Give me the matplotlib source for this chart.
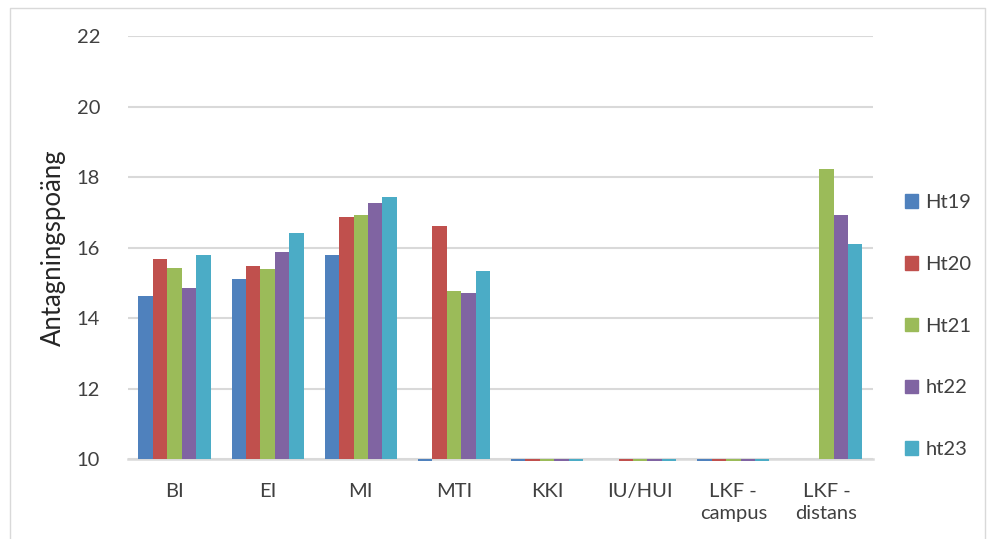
import numpy as np
from matplotlib import pyplot as plt
from matplotlib.patches import Patch

categories = ['BI', 'EI', 'MI', 'MTI', 'KKI', 'IU/HUI', 'LKF -\ncampus', 'LKF -\ndistans']
series = ['Ht19', 'Ht20', 'Ht21', 'ht22', 'ht23']
colors = ['#4F81BD', '#C0504D', '#9BBB59', '#8064A2', '#4BACC6']

nan = np.nan
# 0 = value below the axis minimum (drawn as a thin stub by Excel)
ht19 = [14.62, 15.10, 15.78, 0, 0, nan, 0, nan]
ht20 = [15.66, 15.48, 16.86, 16.60, 0, 0, 0, nan]
ht21 = [15.42, 15.40, 16.91, 14.78, 0, 0, 0, 18.23]
ht22 = [14.84, 15.88, 17.25, 14.72, 0, 0, 0, 16.91]
ht23 = [15.79, 16.40, 17.44, 15.34, 0, 0, 0, 16.11]
values = [ht19, ht20, ht21, ht22, ht23]

ymin, ymax = 10, 22

plt.rcParams['font.family'] = ['Lato', 'DejaVu Sans']
fig = plt.figure(figsize=(9.89, 5.39), dpi=100)
ax = fig.add_axes([0.1294, 0.1484, 0.7533, 0.7848])

x = np.arange(len(categories))
w = 0.774 / len(series)
for i, (name, vals, c) in enumerate(zip(series, values, colors)):
    xs = x - 0.387 + w * (i + 0.5)
    for xi, v in zip(xs, vals):
        if np.isnan(v):
            continue
        if v < ymin:
            ax.bar(xi, -0.06, bottom=ymin, width=w, color=c, clip_on=False, zorder=3)
        else:
            ax.bar(xi, v - ymin, bottom=ymin, width=w, color=c, zorder=3)

ax.set_xlim(-0.5, len(categories) - 0.5)
ax.set_ylim(ymin, ymax)
ax.set_yticks(range(10, 23, 2))
ax.set_xticks(x)
ax.set_xticklabels(categories, fontsize=14.5, color='#404040', linespacing=1.35)
ax.tick_params(axis='y', labelsize=14.5, labelcolor='#404040', length=0, pad=20)
ax.tick_params(axis='x', length=0, pad=17)
ax.yaxis.grid(True, color='#d9d9d9', linewidth=1.5, zorder=0)
ax.set_axisbelow(True)
for s in ['top', 'right', 'left']:
    ax.spines[s].set_visible(False)
ax.spines['bottom'].set_color('#d9d9d9')
ax.spines['bottom'].set_linewidth(1.8)
ax.spines['bottom'].set_zorder(2)

ax.set_ylabel('Antagningspoäng', fontsize=18.5, color='#262626', labelpad=8)

handles = [Patch(color=c, label=n) for n, c in zip(series, colors)]
fig.legend(handles=handles, loc='center left', bbox_to_anchor=(0.905, 0.395),
           frameon=False, fontsize=14.5, handlelength=0.65, handleheight=0.65,
           handletextpad=0.35, labelspacing=2.22, borderpad=0, labelcolor='#404040')

# outer chart border
fig.add_artist(plt.Line2D([10/989, 10/989, 985/989, 985/989], [0, 1 - 8/539, 1 - 8/539, 0],
                          color='#d9d9d9', linewidth=1))

fig.savefig('out.png', dpi=100)
